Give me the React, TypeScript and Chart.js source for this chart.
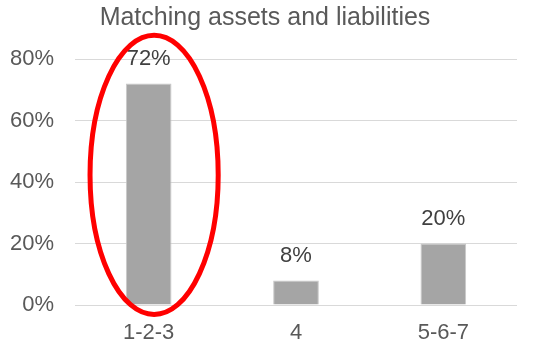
import React, { useEffect, useRef } from "react";
import { Chart, registerables } from "chart.js";

Chart.register(...registerables);

const TITLE = "Matching assets and liabilities";
const categories = ["1-2-3", "4", "5-6-7"];
const values = [72, 8, 20];
const yTicks = [0, 20, 40, 60, 80];
// highlight ellipse around the first category (in data/category units)
const highlightCategory = 0;
const highlightXOffset = 0.037;
const highlightHalfWidth = 0.435;
const highlightYMin = -3.1;
const highlightYMax = 87.7;

const FONT = "'Liberation Sans', Arial, sans-serif";

const valueLabels = {
  id: "valueLabels",
  afterDatasetsDraw(chart: any) {
    const ctx = chart.ctx;
    const meta = chart.getDatasetMeta(0);
    ctx.save();
    ctx.font = `22px ${FONT}`;
    ctx.fillStyle = "#404040";
    ctx.textAlign = "center";
    ctx.textBaseline = "middle";
    meta.data.forEach((bar: any, i: number) => {
      ctx.fillText(values[i] + "%", bar.x, bar.y - 24.5);
    });
    ctx.restore();
  },
};

const ellipsePlugin = {
  id: "ellipse",
  afterDraw(chart: any) {
    const ctx = chart.ctx;
    const xs = chart.scales.x;
    const ys = chart.scales.y;
    const catW = xs.getPixelForValue(1) - xs.getPixelForValue(0);
    const cx = xs.getPixelForValue(highlightCategory) + highlightXOffset * catW;
    const rx = highlightHalfWidth * catW;
    const top = ys.getPixelForValue(highlightYMax);
    const bottom = ys.getPixelForValue(highlightYMin);
    const cy = (top + bottom) / 2;
    const ry = (bottom - top) / 2;
    ctx.save();
    ctx.beginPath();
    ctx.ellipse(cx, cy, rx, ry, 0, 0, Math.PI * 2);
    ctx.lineWidth = 5;
    ctx.strokeStyle = "#ff0000";
    ctx.stroke();
    ctx.restore();
  },
};

export default function App() {
  const ref = useRef<HTMLCanvasElement>(null);
  useEffect(() => {
    document.body.style.margin = "0";
    const chart = new Chart(ref.current!, {
      type: "bar",
      data: {
        labels: categories,
        datasets: [
          {
            data: values,
            backgroundColor: "#a5a5a5",
            borderColor: "#c8c8c8",
            borderWidth: 1,
            barPercentage: 0.31,
            categoryPercentage: 1,
          },
        ],
      },
      options: {
        animation: false,
        responsive: false,
        layout: { padding: { left: 0, right: 22, top: 0, bottom: 0 } },
        plugins: {
          legend: { display: false },
          tooltip: { enabled: false },
          title: {
            display: true,
            text: TITLE,
            color: "#595959",
            font: { family: FONT, size: 25, weight: "normal" },
            padding: { top: 3, bottom: 26 },
          },
        },
        scales: {
          x: {
            grid: { display: false, drawTicks: false },
            border: { display: false },
            ticks: { color: "#595959", font: { family: FONT, size: 22 }, padding: 15 },
            afterFit(s: any) {
              s.height = 45;
            },
          },
          y: {
            min: 0,
            max: 80,
            afterBuildTicks(s: any) {
              s.ticks = yTicks.map((v) => ({ value: v }));
            },
            grid: { color: "#d9d9d9", lineWidth: 1, drawTicks: false },
            border: { display: false },
            ticks: {
              color: "#595959",
              font: { family: FONT, size: 22 },
              padding: 21,
              callback: (v: any) => v + "%",
            },
            afterFit(s: any) {
              s.width = 75;
            },
          },
          yRight: {
            position: "right",
            display: true,
            grid: { display: false, drawTicks: false },
            border: { display: false },
            ticks: { display: false },
            afterFit(s: any) {
              s.width = 13;
            },
          },
        },
      } as any,
      plugins: [valueLabels, ellipsePlugin],
    });
    return () => chart.destroy();
  }, []);
  return <canvas ref={ref} width={552} height={350} style={{ display: "block" }} />;
}
